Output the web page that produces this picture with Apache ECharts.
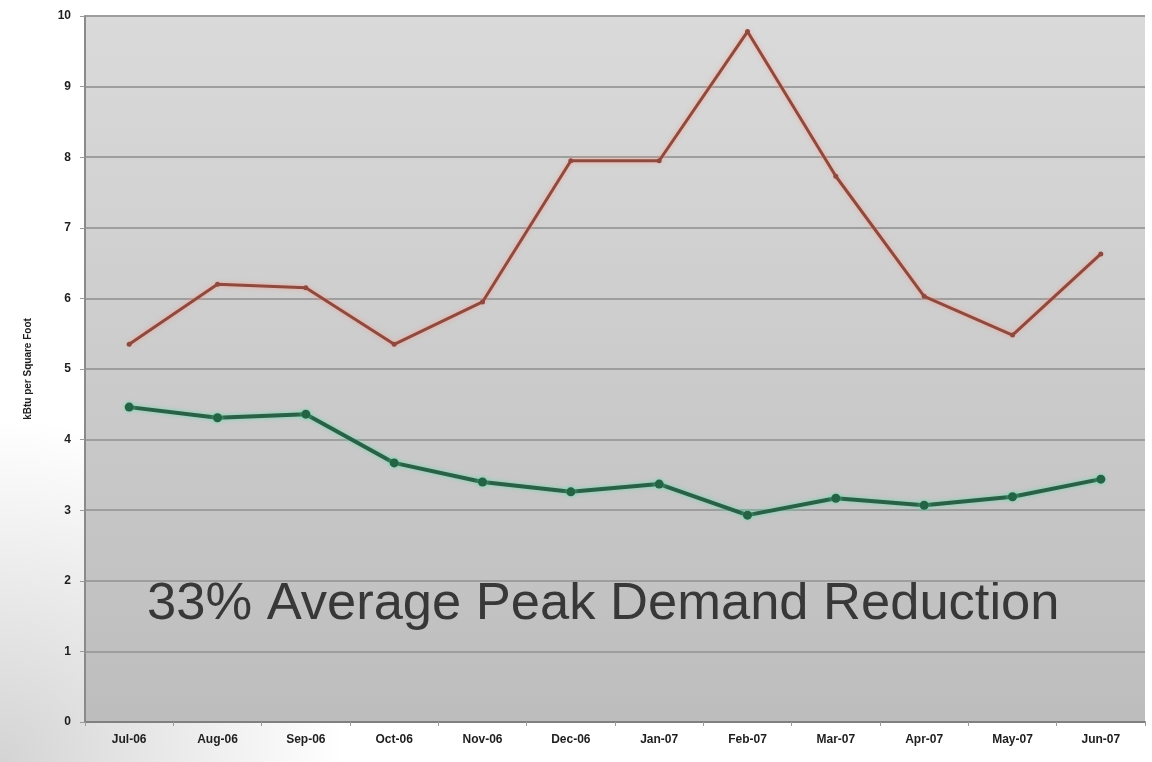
<!DOCTYPE html>
<html><head><meta charset="utf-8">
<script src="https://cdn.jsdelivr.net/npm/echarts@6/dist/echarts.min.js"></script>
<style>html,body{margin:0;padding:0;background:#fff}#c{width:1152px;height:762px}</style>
</head><body><div id="c"></div>
<script>
const categories = ['Jul-06','Aug-06','Sep-06','Oct-06','Nov-06','Dec-06','Jan-07','Feb-07','Mar-07','Apr-07','May-07','Jun-07'];
const baseline = [5.35, 6.2, 6.15, 5.35, 5.95, 7.95, 7.95, 9.78, 7.73, 6.03, 5.48, 6.63];
const improved = [4.46, 4.31, 4.36, 3.67, 3.4, 3.26, 3.37, 2.93, 3.17, 3.07, 3.19, 3.44];
const yTicks = [0,1,2,3,4,5,6,7,8,9,10];
const annotation = '33% Average Peak Demand Reduction';
const yTitle = 'kBtu per Square Foot';

const chart = echarts.init(document.getElementById('c'));
chart.setOption({
  animation: false,
  backgroundColor: {type:'radial', x:0, y:1, r:0.45, colorStops:[{offset:0,color:'#d4d4d4'},{offset:1,color:'#ffffff'}]},
  grid: {left: 85, right: 7, top: 16, bottom: 40, show: true, borderWidth: 0,
    backgroundColor: {type:'linear', x:0, y:0, x2:0, y2:1, colorStops:[{offset:0,color:'#dadada'},{offset:1,color:'#bdbdbd'}]}},
  xAxis: {type:'category', data: categories, boundaryGap: true,
    axisLine:{lineStyle:{color:'#808080', width:2}},
    axisTick:{show:true, lineStyle:{color:'#9a9a9a'}, length:4},
    axisLabel:{color:'#1e1e1e', fontWeight:'bold', fontSize:12, fontFamily:'Liberation Sans', margin:12}},
  yAxis: {type:'value', min: yTicks[0], max: yTicks[yTicks.length-1], interval: 1,
    name: yTitle, nameLocation:'middle', nameGap: 52, nameRotate: 90,
    nameTextStyle:{color:'#1e1e1e', fontWeight:'bold', fontSize:10, fontFamily:'Liberation Sans'},
    axisLine:{show:true, lineStyle:{color:'#8a8a8a', width:2}},
    axisTick:{show:true, length:5, lineStyle:{color:'#9a9a9a'}},
    axisLabel:{color:'#1e1e1e', fontWeight:'bold', fontSize:12, fontFamily:'Liberation Sans', margin:14},
    splitLine:{lineStyle:{color:'#9e9e9e', width:2}}},
  graphic: [{type:'text', left: 147, top: 578,
    style:{text: annotation, fontSize: 52.5, fontFamily:'Liberation Sans', fill:'#383838'}}],
  series: [
    {type:'line', data: baseline, symbol:'circle', symbolSize:5,
     lineStyle:{color:'#8e4a3e', width:3, shadowColor:'rgba(255,150,130,0.8)', shadowBlur:4},
     itemStyle:{color:'#8e4a3e'}},
    {type:'line', data: improved, symbol:'circle', symbolSize:9,
     lineStyle:{color:'#2a6046', width:4, shadowColor:'rgba(90,220,170,0.8)', shadowBlur:4},
     itemStyle:{color:'#246444', shadowColor:'rgba(90,220,170,0.8)', shadowBlur:4}}
  ]
});
</script></body></html>
